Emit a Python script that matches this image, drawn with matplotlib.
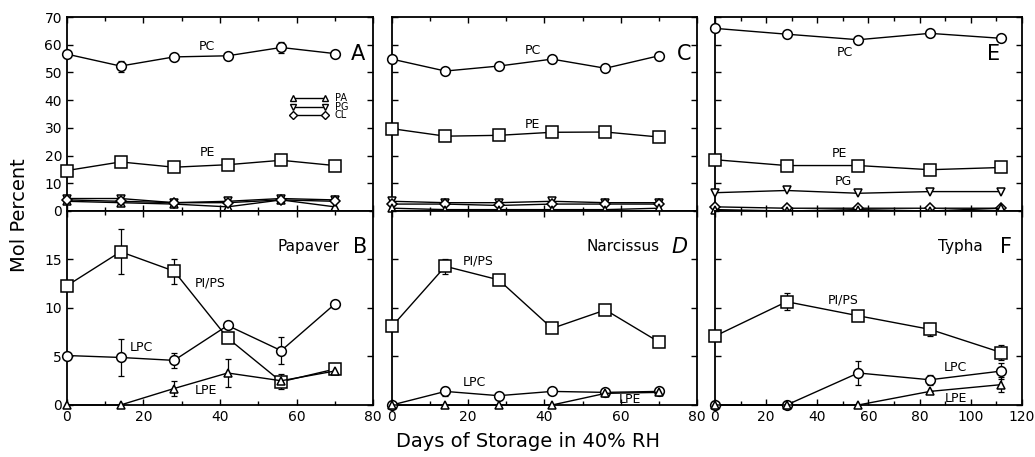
import matplotlib
matplotlib.use("Agg")
import matplotlib.pyplot as plt
import numpy as np
from matplotlib.ticker import MultipleLocator

plt.rcParams['font.family'] = ['DejaVu Sans']

# ---------------- data ----------------
days_ab = [0, 14, 28, 42, 56, 70]
days_cd = [0, 14, 28, 42, 56, 70]
days_ef = [0, 28, 56, 84, 112]

# Panel A (Papaver, major lipids)
A_PC = [56.6, 52.3, 55.6, 56.0, 59.0, 56.8]
A_PC_err = [0, 2.0, 0, 0, 2.0, 0]
A_PE = [14.6, 17.7, 15.8, 16.7, 18.3, 16.4]
A_PA = [3.5, 3.0, 2.5, 1.5, 4.0, 1.5]
A_PG = [4.5, 4.5, 3.0, 3.5, 4.5, 4.0]
A_CL = [4.0, 3.5, 3.0, 3.0, 4.0, 3.5]

# Panel B (Papaver, minor lipids)
B_PIPS = [12.3, 15.8, 13.8, 6.9, 2.4, 3.7]
B_PIPS_err = [0, 2.3, 1.3, 0, 0.8, 0.5]
B_LPC = [5.1, 4.9, 4.6, 8.2, 5.6, 10.4]
B_LPC_err = [0, 1.9, 0.8, 0, 1.4, 0]
B_LPE = [0.0, 0.0, 1.7, 3.3, 2.5, 3.5]
B_LPE_err = [0, 0, 0.8, 1.4, 0, 0]

# Panel C (Narcissus, major lipids)
C_PC = [54.8, 50.5, 52.3, 54.8, 51.5, 56.0]
C_PE = [29.7, 27.0, 27.3, 28.4, 28.5, 26.7]
C_PG = [3.5, 3.0, 3.0, 3.5, 3.0, 3.0]
C_CL = [2.5, 2.5, 2.0, 2.5, 2.5, 2.5]
C_PA = [1.0, 0.5, 0.5, 0.5, 0.5, 1.0]

# Panel D (Narcissus, minor lipids)
D_PIPS = [8.1, 14.3, 12.9, 7.9, 9.8, 6.5]
D_PIPS_err = [0, 0.8, 0, 0, 0, 0]
D_LPC = [0.0, 1.4, 0.96, 1.4, 1.3, 1.4]
D_LPC_err = [0, 0.5, 0, 0, 0, 0]
D_LPE = [0.0, 0.0, 0.0, 0.0, 1.2, 1.3]

# Panel E (Typha, major lipids)
E_PC = [65.9, 63.8, 61.8, 64.1, 62.3]
E_PE = [18.5, 16.4, 16.4, 14.9, 15.7]
E_PE_err = [0, 0, 1.5, 0, 0]
E_PG = [6.6, 7.4, 6.4, 7.0, 7.0]
E_CL = [1.5, 1.0, 1.0, 1.0, 1.0]
E_PA = [0.5, 0.0, 0.5, 0.0, 1.0]

# Panel F (Typha, minor lipids)
F_PIPS = [7.1, 10.65, 9.2, 7.8, 5.4]
F_PIPS_err = [0, 0.9, 0, 0.7, 0.8]
F_LPC = [0.0, 0.0, 3.3, 2.6, 3.5]
F_LPC_err = [0, 0, 1.2, 0.5, 0.8]
F_LPE = [0.0, 0.0, 0.0, 1.4, 2.1]
F_LPE_err = [0, 0, 0, 0, 0.8]

top_yticks = [0, 10, 20, 30, 40, 50, 60, 70]
bot_yticks = [0, 5, 10, 15]

legend_labels = ['PA', 'PG', 'CL']

# ---------------- figure ----------------
fig = plt.figure(figsize=(10.35, 4.57), dpi=100)

lefts = [0.0647, 0.3787, 0.6908]
widths = [0.2957, 0.2947, 0.2966]
h = 0.4245
bot_b = 0.1138
top_b = bot_b + h

ms = 7


def style(ax, xmax, ylim, yticks, show_x, show_y):
    ax.set_xlim(0, xmax)
    ax.set_ylim(*ylim)
    ax.xaxis.set_major_locator(MultipleLocator(20))
    ax.xaxis.set_minor_locator(MultipleLocator(10))
    ax.set_yticks(yticks)
    ax.yaxis.set_minor_locator(MultipleLocator(yticks[1] - yticks[0]))
    ax.tick_params(which='both', direction='in', top=True, right=True,
                   labelsize=10, length=4, width=1)
    ax.tick_params(which='minor', length=3)
    if not show_x:
        ax.tick_params(labelbottom=False)
    if not show_y:
        ax.tick_params(labelleft=False)
    for s in ax.spines.values():
        s.set_linewidth(1.3)


def series(ax, x, y, marker, err=None, msz=ms, lw=1.0):
    if err is not None:
        ax.errorbar(x, y, yerr=err, fmt='none', ecolor='black',
                    elinewidth=0.9, capsize=2, capthick=0.9, zorder=2)
    ax.plot(x, y, color='black', lw=lw, marker=marker, markersize=msz,
            markerfacecolor='white', markeredgecolor='black',
            markeredgewidth=1.1, zorder=3, clip_on=False)


axes = {}
for col in range(3):
    xmax = 120 if col == 2 else 80
    at = fig.add_axes([lefts[col], top_b, widths[col], h])
    ab = fig.add_axes([lefts[col], bot_b, widths[col], h])
    style(at, xmax, (0, 70), top_yticks, False, col == 0)
    style(ab, xmax, (0, 20), bot_yticks, True, col == 0)
    axes[col] = (at, ab)

# ---- Panel A ----
ax = axes[0][0]
series(ax, days_ab, A_PC, 'o', A_PC_err)
series(ax, days_ab, A_PE, 's', msz=8)
series(ax, days_ab, A_PG, 'v', msz=6)
series(ax, days_ab, A_PA, '^', msz=6)
series(ax, days_ab, A_CL, 'D', msz=5)
ax.text(36.6, 59.5, 'PC', fontsize=9, ha='center', va='center')
ax.text(36.6, 21, 'PE', fontsize=9, ha='center', va='center')
ax.text(78, 56.5, 'A', fontsize=15, ha='right', va='center')
# legend drawn in data coordinates
leg_y = [40.6, 37.6, 34.6]
leg_m = ['^', 'v', 'D']
for yy, mk, tt in zip(leg_y, leg_m, legend_labels):
    ax.plot([59.0, 67.4], [yy, yy], color='black', lw=1.0, marker=mk,
            markersize=5 if mk != 'D' else 4, markerfacecolor='white',
            markeredgecolor='black', markeredgewidth=1.0)
    ax.text(70.0, yy, tt, fontsize=7, ha='left', va='center')

# ---- Panel B ----
ax = axes[0][1]
series(ax, days_ab, B_PIPS, 's', B_PIPS_err, msz=8)
series(ax, days_ab, B_LPC, 'o', B_LPC_err)
series(ax, days_ab, B_LPE, '^', B_LPE_err, msz=6)
ax.text(37.4, 12.6, 'PI/PS', fontsize=9, ha='center', va='center')
ax.text(19.5, 5.9, 'LPC', fontsize=9, ha='center', va='center')
ax.text(36.3, 1.5, 'LPE', fontsize=9, ha='center', va='center')
ax.text(71.3, 16.3, 'Papaver', fontsize=11, ha='right', va='center')
ax.text(78.5, 16.3, 'B', fontsize=15, ha='right', va='center')

# ---- Panel C ----
ax = axes[1][0]
series(ax, days_cd, C_PC, 'o')
series(ax, days_cd, C_PE, 's', msz=8)
series(ax, days_cd, C_PG, 'v', msz=6)
series(ax, days_cd, C_CL, 'D', msz=5)
series(ax, days_cd, C_PA, '^', msz=6)
ax.text(36.9, 58, 'PC', fontsize=9, ha='center', va='center')
ax.text(36.9, 31.3, 'PE', fontsize=9, ha='center', va='center')
ax.text(78.5, 56.5, 'C', fontsize=15, ha='right', va='center')

# ---- Panel D ----
ax = axes[1][1]
series(ax, days_cd, D_PIPS, 's', D_PIPS_err, msz=8)
series(ax, days_cd, D_LPC, 'o', D_LPC_err)
series(ax, days_cd, D_LPE, '^', msz=6)
ax.text(22.5, 14.8, 'PI/PS', fontsize=9, ha='center', va='center')
ax.text(21.5, 2.3, 'LPC', fontsize=9, ha='center', va='center')
ax.text(62.5, 0.6, 'LPE', fontsize=9, ha='center', va='center')
ax.text(70.2, 16.3, 'Narcissus', fontsize=11, ha='right', va='center')
ax.text(77.5, 16.3, 'D', fontsize=15, ha='right', va='center', style='italic')

# ---- Panel E ----
ax = axes[2][0]
series(ax, days_ef, E_PC, 'o')
series(ax, days_ef, E_PE, 's', E_PE_err, msz=8)
series(ax, days_ef, E_PG, 'v', msz=6)
series(ax, days_ef, E_CL, 'D', msz=5)
series(ax, days_ef, E_PA, '^', msz=6)
ax.text(50.8, 57.2, 'PC', fontsize=9, ha='center', va='center')
ax.text(48.6, 20.8, 'PE', fontsize=9, ha='center', va='center')
ax.text(50.2, 10.7, 'PG', fontsize=9, ha='center', va='center')
ax.text(108.8, 56.5, 'E', fontsize=15, ha='center', va='center')

# ---- Panel F ----
ax = axes[2][1]
series(ax, days_ef, F_PIPS, 's', F_PIPS_err, msz=8)
series(ax, days_ef, F_LPC, 'o', F_LPC_err)
series(ax, days_ef, F_LPE, '^', F_LPE_err, msz=6)
ax.text(50.2, 10.8, 'PI/PS', fontsize=9, ha='center', va='center')
ax.text(94, 3.9, 'LPC', fontsize=9, ha='center', va='center')
ax.text(94, 0.7, 'LPE', fontsize=9, ha='center', va='center')
ax.text(104.5, 16.3, 'Typha', fontsize=11, ha='right', va='center')
ax.text(116, 16.3, 'F', fontsize=15, ha='right', va='center')

fig.text(0.019, 0.53, 'Mol Percent', rotation=90, fontsize=14,
         ha='center', va='center')
fig.text(0.51, 0.035, 'Days of Storage in 40% RH', fontsize=14,
         ha='center', va='center')

fig.savefig('out.png', dpi=100)
